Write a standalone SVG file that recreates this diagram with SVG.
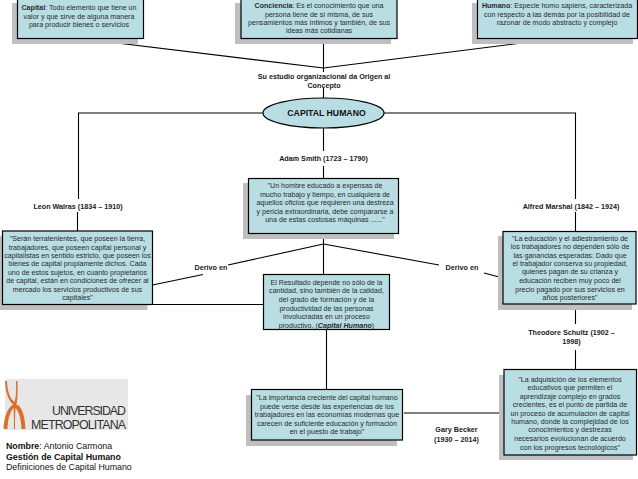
<svg xmlns="http://www.w3.org/2000/svg" width="638" height="479" viewBox="0 0 638 479">
<style>
text{font-family:"Liberation Sans",Arial,sans-serif;font-size:7.1px;fill:#2b2b2b;text-anchor:middle}
.s{fill:#bfbfbf}
.b{fill:#b8dde3;stroke:#000;stroke-width:1.2}
.l{font-weight:bold;font-size:7.2px;fill:#1a1a1a}
.c{fill:none;stroke:#000;stroke-width:1.1}
.st{text-anchor:start;font-size:8.8px;fill:#111}
.bd{font-weight:bold}
</style>
<rect width="638" height="479" fill="#fff"/>
<g id="connectors" class="c">
<path class="c" d="M80 38.5L323.5 68M558 38.5L323.5 68M323.5 38.5V72M323.5 88V98M323.5 128V151M323.5 166V178.5"/>
<path class="c" d="M263 113H78.5V199M77.5 212V231M384 113H575.5V199M575.5 212V231.5M575.5 304V324M575.5 350V369.5"/>
<path class="c" d="M323.5 233.5V274.5M323.5 244L228 265M203 274.5L152.5 285M323.5 244L439 265M484 273L503 278"/>
<path class="c" d="M152.5 304.5H263.5M326.5 329.5V389.5M404 413H504"/>
</g>
<g id="capital"><rect class="s" x="12" y="3" width="126" height="41"/><rect class="b" x="17.5" y="-3" width="126" height="41.5"/>
<text x="79" y="10"><tspan class="bd">Capital</tspan>: Todo elemento que tiene un</text><text x="79" y="19">valor y que sirve de alguna manera</text><text x="79" y="27.2">para producir bienes o servicios</text></g>
<g id="conciencia"><rect class="s" x="235" y="3" width="156" height="41"/><rect class="b" x="241" y="-3" width="156" height="41.5"/>
<text x="319" y="8.2"><tspan class="bd">Conciencia</tspan>: Es el conocimiento que una</text><text x="319" y="16.6">persona tiene de sí misma, de sus</text><text x="319" y="25">pensamientos más íntimos y también, de sus</text><text x="319" y="33.4">ideas más cotidianas</text></g>
<g id="humano"><rect class="s" x="472" y="3" width="161" height="41"/><rect class="b" x="477.5" y="-3" width="160" height="41.5"/>
<text x="557" y="8.2"><tspan class="bd">Humano</tspan>: Especie homo sapiens, caracterizada</text><text x="557" y="16.8">con respecto a las demás por la posibilidad de</text><text x="557" y="25">razonar de modo abstracto y complejo</text></g>
<g id="capital-humano"><ellipse class="b" cx="323.5" cy="113" rx="60.5" ry="15"/><text x="326.5" y="116" style="font-weight:bold;font-size:8.7px;fill:#111">CAPITAL HUMANO</text></g>
<g id="labels">
<text class="l" x="324" y="78.5">Su estudio organizacional  da Origen al</text><text class="l" x="324" y="87.5">Concepto</text>
<text class="l" x="323.5" y="160.5">Adam Smith (1723 – 1790)</text>
<text class="l" x="78" y="209">Leon Walras (1834 – 1910)</text>
<text class="l" x="571" y="209">Alfred Marshal (1842 – 1924)</text>
<text class="l" x="571.5" y="334.5">Theodore Schultz (1902 –</text><text class="l" x="571.5" y="343.5">1998)</text>
<text class="l" x="211" y="270">Derivo en</text><text class="l" x="462" y="269.5">Derivo en</text>
<text class="l" x="456.5" y="432">Gary Becker</text><text class="l" x="456.5" y="441.5">(1930 – 2014)</text>
</g>
<g id="smith"><rect class="s" x="243" y="183" width="151" height="56"/><rect class="b" x="248.5" y="178.5" width="150" height="55"/>
<text x="325" y="188.2">"Un hombre educado a expensas de</text><text x="325" y="196.6">mucho trabajo y tiempo, en cualquiera de</text><text x="325" y="205.2">aquellos oficios que requieren una destreza</text><text x="325" y="213.6">y pericia extraordinaria, debe compararse a</text><text x="325" y="221.8">una de estas costosas máquinas ......"</text></g>
<g id="walras"><rect class="s" x="-3" y="236" width="150.5" height="74"/><rect class="b" x="2.5" y="231" width="150" height="73.5"/>
<text x="77.5" y="240.8">"Serán terratenientes, que poseen la tierra,</text><text x="77.5" y="249.5">trabajadores, que poseen capital personal y</text><text x="77.5" y="258.2">capitalistas en sentido estricto, que poseen los</text><text x="77.5" y="266.2">bienes de capital propiamente dichos. Cada</text><text x="77.5" y="274.8">uno de estos sujetos, en cuanto propietarios</text><text x="77.5" y="283.2">de capital, están en condiciones de ofrecer al</text><text x="77.5" y="291.8">mercado los servicios productivos de sus</text><text x="77.5" y="300.2">capitales"</text></g>
<g id="marshal"><rect class="s" x="498" y="236" width="134" height="74"/><rect class="b" x="503" y="231.5" width="133" height="72.5"/>
<text x="570" y="240.8">"La educación y el adiestramiento de</text><text x="570" y="249.2">los trabajadores no dependen sólo de</text><text x="570" y="257.5">las ganancias esperadas: Dado que</text><text x="570" y="265.8">el trabajador conserva su propiedad,</text><text x="570" y="274.2">quienes pagan de su crianza y</text><text x="570" y="283.2">educación reciben muy poco del</text><text x="570" y="291.8">precio pagado por sus servicios en</text><text x="570" y="299.8">años posteriores"</text></g>
<g id="resultado"><rect class="b" x="263.5" y="274.5" width="126" height="55"/>
<text x="326.5" y="284.8">El Resultado depende no sólo de la</text><text x="326.5" y="293.2">cantidad, sino también de la calidad,</text><text x="326.5" y="301.8">del grado de formación y de la</text><text x="326.5" y="310.5">productividad de las personas</text><text x="326.5" y="318.8">involucradas en un proceso</text><text x="326.5" y="327.5">productivo. (<tspan style="font-weight:bold;font-style:italic">Capital Humano</tspan>)</text></g>
<g id="importancia"><rect class="s" x="246" y="395" width="151" height="51"/><rect class="b" x="251.5" y="389.5" width="151" height="50.5"/>
<text x="327" y="400.2">"La importancia creciente del capital humano</text><text x="327" y="408.8">puede verse desde las experiencias de los</text><text x="327" y="417.2">trabajadores en las economías modernas que</text><text x="327" y="425.8">carecen de suficiente educación y formación</text><text x="327" y="434.2">en el puesto de trabajo"</text></g>
<g id="schultz"><rect class="s" x="499" y="375" width="134" height="85"/><rect class="b" x="504" y="369.5" width="132.5" height="85.5"/>
<text x="570" y="381.8">"La adquisición de los elementos</text><text x="570" y="390.2">educativos que permiten el</text><text x="570" y="398.8">aprendizaje complejo en grados</text><text x="570" y="406.8">crecientes, es el punto de partida de</text><text x="570" y="415.5">un proceso de acumulación de capital</text><text x="570" y="423.5">humano, donde la complejidad de los</text><text x="570" y="432.2">conocimientos y destrezas</text><text x="570" y="440.8">necesarios evolucionan de acuerdo</text><text x="570" y="449.5">con los progresos tecnológicos"</text></g>
<g id="logo"><rect x="5" y="379" width="123" height="51" fill="#e7e7e7"/>
<path fill="#dd6f2c" d="M5 381H7C7.5 391 9.5 398 14.5 402C16 397 16.5 390 16 381H17.5C18 391 17.5 399 16.5 405H18C22 408 25 416 25.5 429H21.5C21 418 19 412 15.5 408C15 415 15 423 15 429H14C14 423 14 415 13.5 408C10 412 8 418 7.5 429H3.5C4 416 8 408 12.5 405H13.5C8 400 5.5 392 5 381Z"/>
<text x="126" y="414.5" textLength="74" style="text-anchor:end;font-size:12.4px;fill:#333">UNIVERSIDAD</text>
<text x="126" y="428.5" textLength="95" style="text-anchor:end;font-size:12.4px;fill:#333">METROPOLITANA</text></g>
<g id="autor">
<text class="st" x="6" y="448.5"><tspan class="bd">Nombre</tspan>: Antonio Carmona</text>
<text class="st bd" x="6" y="460">Gestión de Capital Humano</text>
<text class="st" x="6" y="469.5">Definiciones de Capital Humano</text></g>
</svg>
